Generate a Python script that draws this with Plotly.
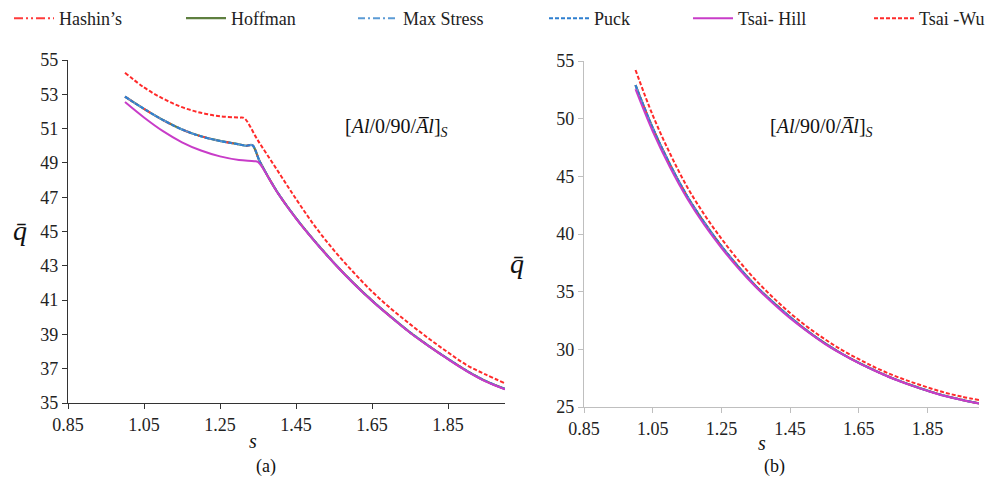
import plotly.graph_objects as go

# ---------------- data: panel (a) [Al/0/90/Al]s ----------------
s_a_upper = [1.0, 1.05, 1.1, 1.15, 1.2, 1.25, 1.3, 1.32, 1.335]
q_a_upper = [52.86, 52.15, 51.5, 50.95, 50.55, 50.28, 50.08, 50.0, 50.03]
s_post = [1.355, 1.4, 1.45, 1.5, 1.55, 1.6, 1.65, 1.7, 1.75, 1.8, 1.85, 1.9, 1.95, 2.0]
q_a_post = [49.07, 47.33, 45.78, 44.42, 43.17, 42.02, 40.97, 40.02, 39.12, 38.32, 37.57, 36.87, 36.27, 35.82]

s_a_hill = [1.0, 1.05, 1.1, 1.15, 1.2, 1.25, 1.3, 1.34, 1.35, 1.4, 1.45, 1.5, 1.55, 1.6, 1.65, 1.7, 1.75, 1.8, 1.85, 1.9, 1.95, 2.0]
q_a_hill = [52.55, 51.65, 50.85, 50.2, 49.72, 49.38, 49.17, 49.1, 49.05, 47.3, 45.75, 44.4, 43.15, 42.0, 40.95, 40.0, 39.1, 38.3, 37.55, 36.85, 36.25, 35.8]

s_a_wu = [1.0, 1.05, 1.1, 1.15, 1.2, 1.25, 1.3, 1.313, 1.35, 1.4, 1.45, 1.5, 1.55, 1.6, 1.65, 1.7, 1.75, 1.8, 1.85, 1.9, 1.95, 2.0]
q_a_wu = [54.26, 53.4, 52.75, 52.25, 51.92, 51.72, 51.64, 51.62, 50.3, 48.6, 46.9, 45.3, 43.9, 42.65, 41.5, 40.5, 39.6, 38.75, 37.95, 37.2, 36.65, 36.15]

# ---------------- data: panel (b) [Al/90/0/Al]s ----------------
s_b = [1.0, 1.05, 1.1, 1.15, 1.2, 1.25, 1.3, 1.35, 1.4, 1.45, 1.5, 1.55, 1.6, 1.65, 1.7, 1.75, 1.8, 1.85, 1.9, 1.95, 2.0]
q_b_common = [52.9, 49.2, 46.05, 43.3, 41.0, 38.95, 37.15, 35.5, 34.1, 32.8, 31.6, 30.55, 29.63, 28.83, 28.12, 27.47, 26.92, 26.42, 25.97, 25.62, 25.32]
q_b_hill = [52.55, 48.9, 45.8, 43.1, 40.8, 38.8, 37.0, 35.4, 34.0, 32.7, 31.55, 30.5, 29.6, 28.8, 28.1, 27.45, 26.9, 26.4, 25.95, 25.6, 25.3]
q_b_wu = [54.22, 50.3, 47.0, 44.1, 41.7, 39.6, 37.7, 36.0, 34.5, 33.15, 31.95, 30.9, 29.95, 29.15, 28.4, 27.75, 27.2, 26.7, 26.25, 25.9, 25.6]

x_ticks = [0.85, 1.05, 1.25, 1.45, 1.65, 1.85]
y_ticks_a = [35, 37, 39, 41, 43, 45, 47, 49, 51, 53, 55]
y_ticks_b = [25, 30, 35, 40, 45, 50, 55]

s_a_common = s_a_upper + s_post
q_a_common = q_a_upper + q_a_post

styles = {
    "Hashin’s": dict(color="#FF3B3B", width=2, dash="9px,3px,2px,3px,2px,3px"),
    "Hoffman": dict(color="#5E7F3F", width=2.2, dash="solid"),
    "Max Stress": dict(color="#5B9BD5", width=2, dash="7px,3px,2px,3px"),
    "Puck": dict(color="#2E7FD0", width=2, dash="4px,2px"),
    "Tsai- Hill": dict(color="#C83CC8", width=2, dash="solid"),
    "Tsai -Wu": dict(color="#FF2A2A", width=2, dash="4px,2px"),
}

series_a = [
    ("Hoffman", s_a_common, q_a_common),
    ("Hashin’s", s_a_common, q_a_common),
    ("Max Stress", s_a_common, q_a_common),
    ("Puck", s_a_common, q_a_common),
    ("Tsai- Hill", s_a_hill, q_a_hill),
    ("Tsai -Wu", s_a_wu, q_a_wu),
]
series_b = [
    ("Hoffman", s_b, q_b_common),
    ("Hashin’s", s_b, q_b_common),
    ("Max Stress", s_b, q_b_common),
    ("Puck", s_b, q_b_common),
    ("Tsai- Hill", s_b, q_b_hill),
    ("Tsai -Wu", s_b, q_b_wu),
]
legend_order = ["Hashin’s", "Hoffman", "Max Stress", "Puck", "Tsai- Hill", "Tsai -Wu"]
legend_ids = ["legend", "legend2", "legend3", "legend4", "legend5", "legend6"]
legend_sym_x = [18, 190, 362, 553, 697, 878]

fig = go.Figure()
for name, xs, ys in series_a:
    fig.add_trace(go.Scatter(x=xs, y=ys, mode="lines", name=name, line=styles[name],
                             xaxis="x", yaxis="y", showlegend=True,
                             legend=legend_ids[legend_order.index(name)], line_shape="spline"))
for name, xs, ys in series_b:
    fig.add_trace(go.Scatter(x=xs, y=ys, mode="lines", name=name, line=styles[name],
                             xaxis="x2", yaxis="y2", showlegend=False, line_shape="spline"))

# page body has an 8px margin: figure sized and placed to compensate
OFF = 8
W, H = 993 - OFF, 485 - OFF

def px(x):
    return (x - OFF) / W

def py(y):
    return 1 - (y - OFF) / H

font_serif = "Times New Roman, Liberation Serif, DejaVu Serif, serif"

def ax_common(color, tickcolor):
    return dict(showgrid=False, zeroline=False, showline=True, linecolor=color, linewidth=1.3,
                ticks="outside", ticklen=5, tickcolor=tickcolor, tickwidth=1.3,
                tickfont=dict(family=font_serif, size=18, color="#222"))

layout_legends = {}
for lid, sx in zip(legend_ids, legend_sym_x):
    layout_legends[lid] = dict(orientation="h", x=px(sx - 9), y=py(0),
                               xanchor="left", yanchor="top", itemwidth=40,
                               font=dict(family=font_serif, size=18, color="#222"),
                               bgcolor="rgba(0,0,0,0)")

fig.update_layout(
    width=W, height=H,
    margin=dict(l=0, r=0, t=0, b=0, autoexpand=False),
    plot_bgcolor="white", paper_bgcolor="white",
    font=dict(family=font_serif),
    xaxis=dict(domain=[px(68), px(505)], range=[0.85, 2.0], tickvals=x_ticks,
               ticktext=[f"{v:.2f}" for v in x_ticks], anchor="y", **ax_common("#333", "#333")),
    yaxis=dict(domain=[py(403), py(60)], range=[35, 55], tickvals=y_ticks_a,
               anchor="x", **ax_common("#333", "#333")),
    xaxis2=dict(domain=[px(584), px(979)], range=[0.85, 2.0], tickvals=x_ticks,
                ticktext=[f"{v:.2f}" for v in x_ticks], anchor="y2", **ax_common("#BFBFBF", "#BFBFBF")),
    yaxis2=dict(domain=[py(407), py(61)], range=[25, 55], tickvals=y_ticks_b,
                anchor="x2", **ax_common("#BFBFBF", "#BFBFBF")),
    showlegend=True,
    **layout_legends,
)

def txt(x, y, text, size=16):
    fig.add_annotation(x=px(x), y=py(y), xref="paper", yref="paper", text=text,
                       showarrow=False, xanchor="center", yanchor="middle",
                       font=dict(family=font_serif, size=size, color="#111"))

txt(20, 230, "<i>q̄</i>", size=28)
txt(517, 263, "<i>q̄</i>", size=28)
txt(253, 441, "<i>s</i>", size=20)
txt(762, 443, "<i>s</i>", size=20)
txt(266, 466, "(a)", size=18)
txt(774, 466, "(b)", size=18)
txt(396, 128, "[<i>Al</i>/0/90/<i>A̅l</i>]<sub><i>S</i></sub>", size=20)
txt(821, 128, "[<i>Al</i>/90/0/<i>A̅l</i>]<sub><i>S</i></sub>", size=20)

fig.write_html("out.html")
